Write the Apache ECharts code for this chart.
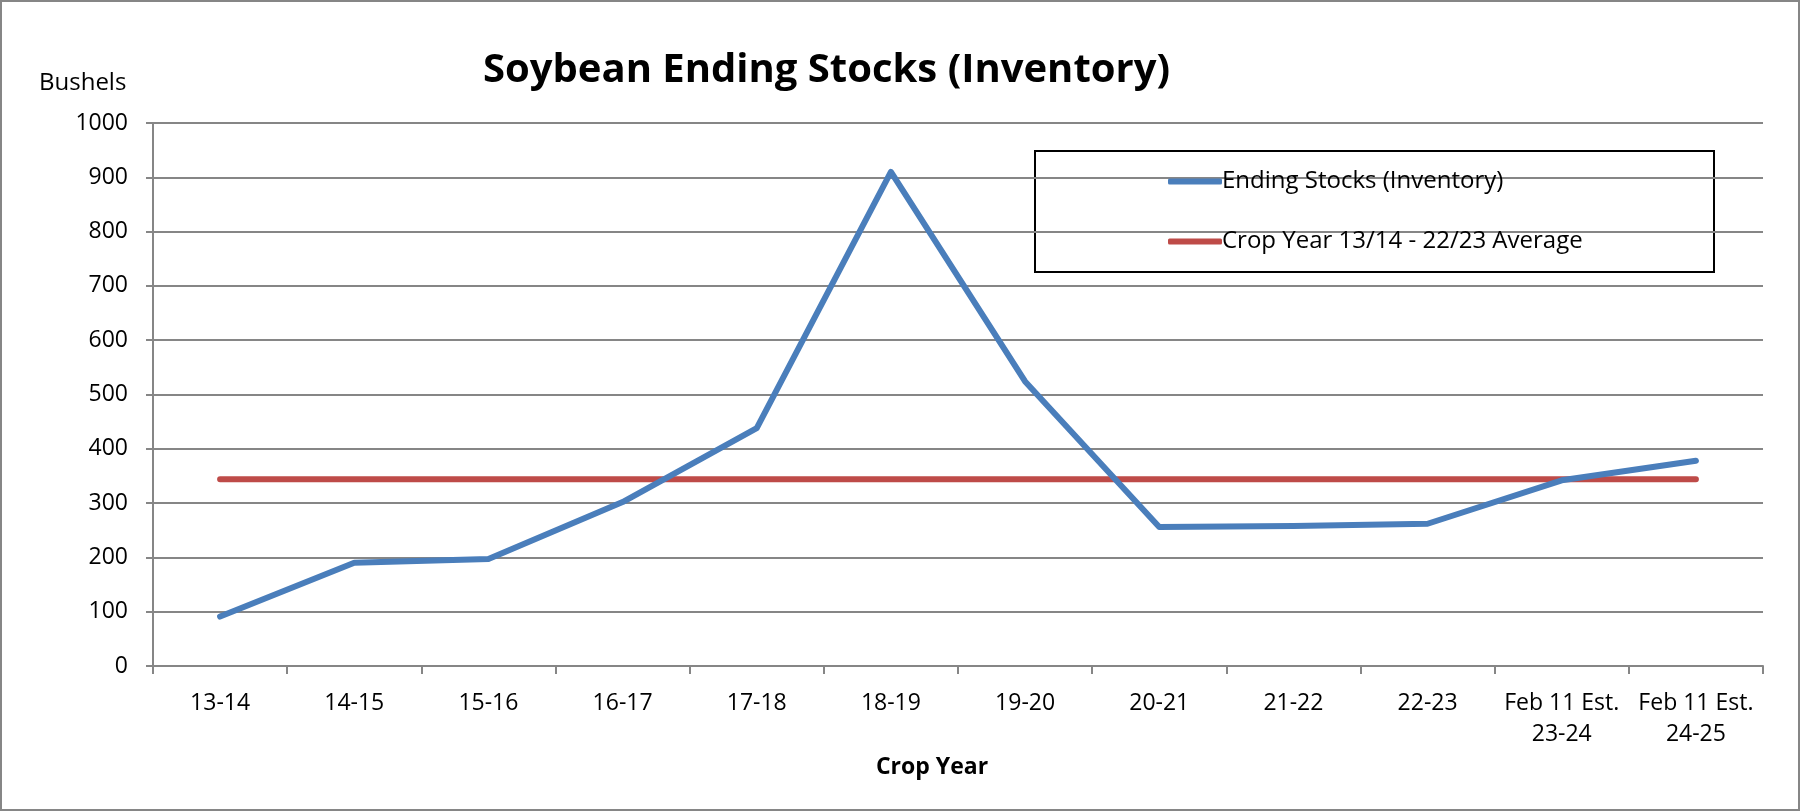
<!DOCTYPE html>
<html>
<head>
<meta charset="utf-8">
<script src="https://cdn.jsdelivr.net/npm/echarts@6/dist/echarts.min.js"></script>
<style>
  html, body { margin: 0; padding: 0; background: #fff; }
  #chart { width: 1801px; height: 812px; }
</style>
</head>
<body>
<div id="chart"></div>
<script>
// crop years on the x axis
var cropYears = ['13-14', '14-15', '15-16', '16-17', '17-18', '18-19', '19-20',
  '20-21', '21-22', '22-23', 'Feb 11 Est.\n23-24', 'Feb 11 Est.\n24-25'];

// ending stocks
var endingStocks = [91, 190, 197, 302, 438, 910, 524, 256, 258, 262, 342, 378];

// 13/14 - 22/23 average, flat line
var avgStocks = [344, 344, 344, 344, 344, 344, 344, 344, 344, 344, 344, 344];

var yTicks = { min: 0, max: 1000, interval: 100 };

var gray = '#868686';
var font = '"Open Sans", "Noto Sans", sans-serif';

var chart = echarts.init(document.getElementById('chart'));

var option = {
  backgroundColor: '#fff',
  animation: false,
  title: [
    {
      text: 'Soybean Ending Stocks (Inventory)',
      left: 478,
      top: 46,
      textStyle: { fontFamily: font, fontSize: 40, fontWeight: 'bold', color: '#000' }
    },
    {
      text: 'Bushels',
      left: 39,
      top: 71,
      padding: 0,
      textStyle: { fontFamily: font, fontSize: 24, fontWeight: 'normal', color: '#000' }
    }
  ],
  legend: {
    orient: 'vertical',
    left: 1168,
    top: 169,
    itemWidth: 54,
    itemHeight: 6,
    itemGap: 35,
    icon: 'roundRect',
    padding: 0,
    textStyle: { fontFamily: font, fontSize: 24, color: '#000', padding: [0, 0, 0, -5], lineHeight: 25 },
    data: ['Ending Stocks (Inventory)', 'Crop Year 13/14 - 22/23 Average']
  },
  grid: { left: 153, right: 38, top: 123, bottom: 146 },
  xAxis: {
    type: 'category',
    data: cropYears,
    boundaryGap: true,
    name: 'Crop Year',
    nameLocation: 'middle',
    nameGap: 90,
    nameTextStyle: { fontFamily: font, fontSize: 23, fontWeight: 'bold', color: '#000', padding: [0, 52, 0, 0] },
    axisLine: { lineStyle: { color: gray, width: 2 } },
    axisTick: { show: true, length: 8, lineStyle: { color: gray, width: 2 } },
    axisLabel: { fontFamily: font, fontSize: 23, color: '#000', margin: 22, lineHeight: 31, interval: 0 }
  },
  yAxis: {
    type: 'value',
    min: yTicks.min,
    max: yTicks.max,
    interval: yTicks.interval,
    axisLine: { show: true, lineStyle: { color: gray, width: 2 } },
    axisTick: { show: true, length: 7, lineStyle: { color: gray, width: 2 } },
    axisLabel: {
      fontFamily: font, fontSize: 23, color: '#000', margin: 25,
      formatter: function (v) { return String(v); }
    },
    splitLine: { show: true, lineStyle: { color: gray, width: 2 } }
  },
  series: [
    {
      name: 'Ending Stocks (Inventory)',
      type: 'line',
      data: endingStocks,
      symbol: 'none',
      color: '#4a7ebb',
      lineStyle: { width: 6, color: '#4a7ebb', cap: 'round', join: 'round' },
      z: 3
    },
    {
      name: 'Crop Year 13/14 - 22/23 Average',
      type: 'line',
      data: avgStocks,
      symbol: 'none',
      color: '#be4b48',
      lineStyle: { width: 6, color: '#be4b48', cap: 'round' },
      z: 2
    }
  ],
  graphic: [
    {
      // outer chart border
      type: 'rect',
      shape: { x: 1, y: 1, width: 1798, height: 809 },
      style: { fill: 'none', stroke: gray, lineWidth: 2 },
      silent: true
    },
    {
      // legend box
      type: 'rect',
      shape: { x: 1035, y: 151, width: 679, height: 121 },
      style: { fill: '#fff', stroke: '#000', lineWidth: 2 },
      z: 0,
      silent: true
    }
  ]
};

chart.setOption(option);
</script>
</body>
</html>
